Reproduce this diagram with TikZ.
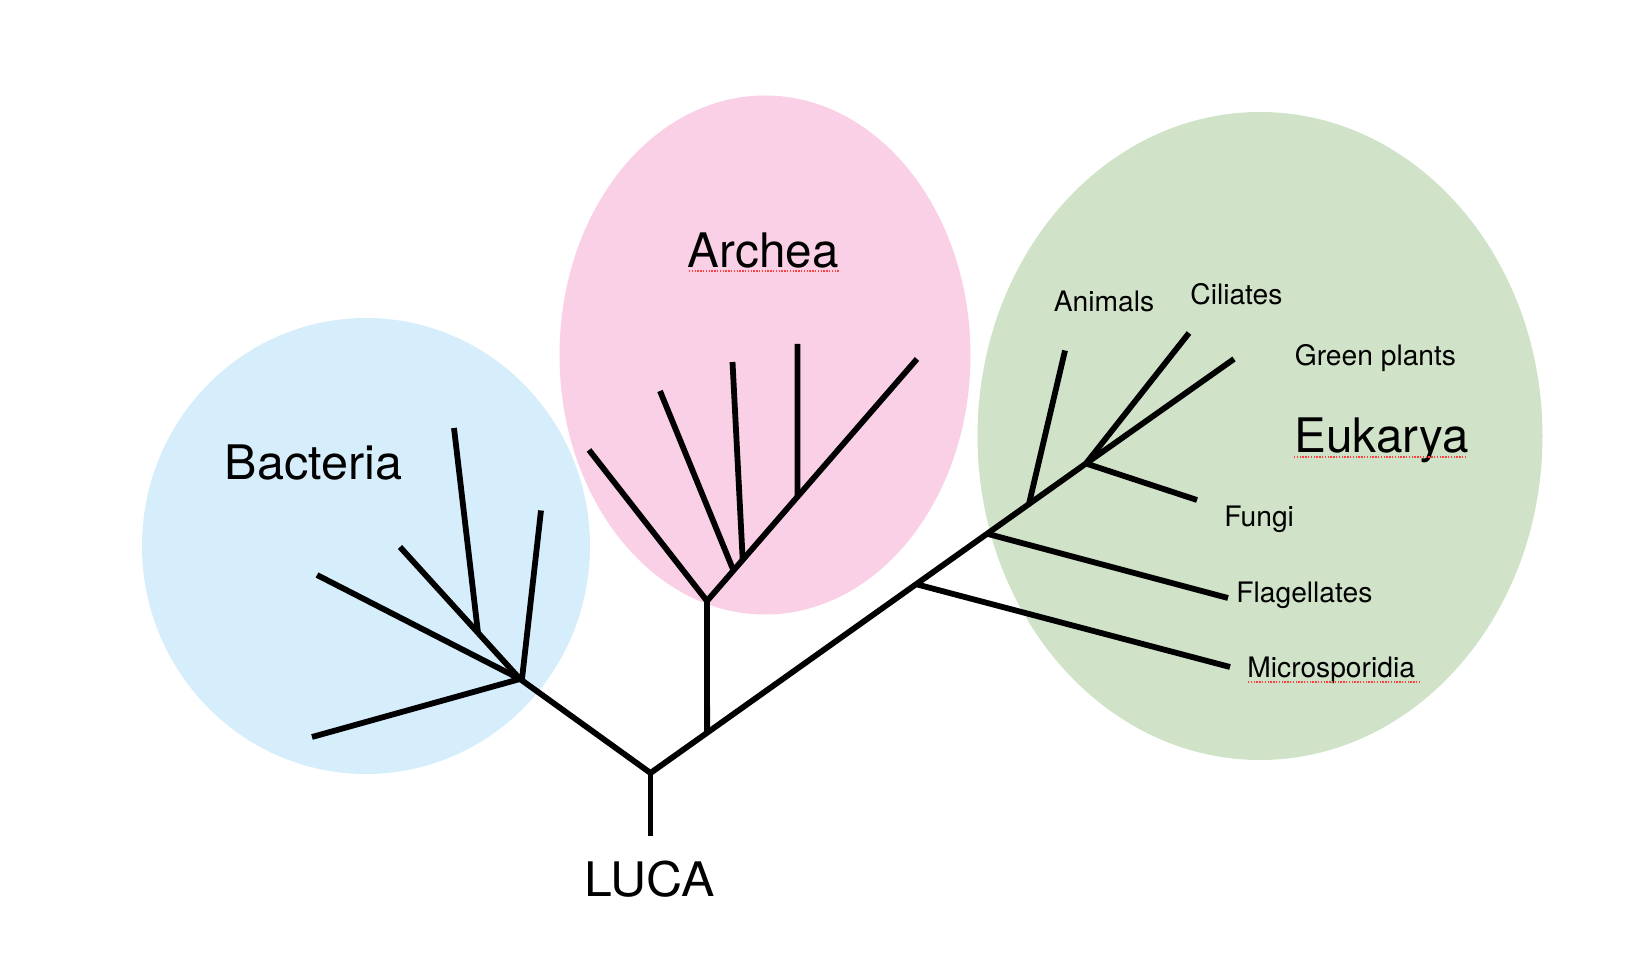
\documentclass[tikz,border=0pt]{standalone}
\usepackage{fontspec}
\setmainfont{TeX Gyre Heros}
\usetikzlibrary{calc}
\definecolor{bactcol}{RGB}{214,238,252}
\definecolor{archcol}{RGB}{249,208,229}
\definecolor{eukcol}{RGB}{208,227,201}
\begin{document}
\begin{tikzpicture}[x=0.5pt,y=-0.5pt,
  branch/.style={line width=2.9pt, line cap=butt, line join=miter},
  big/.style={font=\fontsize{23.8}{28}\selectfont, anchor=base west, inner sep=0pt},
  small/.style={font=\fontsize{14.1}{17}\selectfont, anchor=base west, inner sep=0pt},
  spell/.style={red!75!white, line width=0.6pt, dash pattern=on 0.7pt off 0.7pt}]
\useasboundingbox (0,0) rectangle (1640,972);
% domains
\fill[bactcol] (366,546) ellipse [x radius=224, y radius=228];
\fill[archcol] (765,355) ellipse [x radius=205.5, y radius=259.5];
\fill[eukcol] (1260,436) ellipse [x radius=282.5, y radius=324];
% root and trunk
\coordinate (L0) at (650.5,773);
\coordinate (Lr) at (650.5,836);
\coordinate (E4) at (1086,463.5);
\coordinate (gp) at (1234,359);
\coordinate (At) at ($(L0)!0.13!(E4)$);
\coordinate (E1) at ($(L0)!0.61!(E4)$);
\coordinate (E2) at ($(L0)!0.773!(E4)$);
\coordinate (E3) at ($(L0)!0.869!(E4)$);
% bacteria
\coordinate (BH) at (520,679);
\coordinate (b1) at (312,737);
\coordinate (b2) at (317,575);
\coordinate (b3) at (400,547);
\coordinate (bs) at ($(BH)!0.35!(b3)$);
\coordinate (b4) at (454,428);
\coordinate (b5s) at (522,679);
\coordinate (b5) at (541,510.5);
% archea
\coordinate (A0) at (707,601);
\coordinate (a1) at (589,450);
\coordinate (aE) at (917,359);
\coordinate (a2) at (660,391);
\coordinate (a2s) at ($(A0)!0.126!(aE)$);
\coordinate (a3) at (732.5,362);
\coordinate (a3s) at ($(A0)!0.17!(aE)$);
\coordinate (a4) at (797.5,344);
\coordinate (a4s) at ($(A0)!0.431!(aE)$);
% eukarya leaves
\coordinate (mi) at (1230,667);
\coordinate (fl) at (1228,598);
\coordinate (an) at (1065,350.5);
\coordinate (ci) at (1189,333);
\coordinate (fu) at (1197,500);
% branches
\draw[branch] (Lr) -- (L0);
\draw[branch] (L0) -- (E4) -- (gp);
\draw[branch] (L0) -- (BH);
\draw[branch] (BH) -- (b1);
\draw[branch] (BH) -- (b2);
\draw[branch] (BH) -- (b3);
\draw[branch] (bs) -- (b4);
\draw[branch] (b5s) -- (b5);
\draw[branch] (At) -- (A0);
\draw[branch] (A0) -- (a1);
\draw[branch] (A0) -- (aE);
\draw[branch] (a2s) -- (a2);
\draw[branch] (a3s) -- (a3);
\draw[branch] (a4s) -- (a4);
\draw[branch] (E1) -- (mi);
\draw[branch] (E2) -- (fl);
\draw[branch] (E3) -- (an);
\draw[branch] (E4) -- (ci);
\draw[branch] (E4) -- (fu);
% labels
\node[big] (tb) at (224.5,480) {\scalebox{1.02}[1]{Bacteria}};
\node[big] (ta) at (687.5,268) {Archea};
\node[big] (te) at (1294,453) {Eukarya};
\node[big] (tl) at (584,897) {\scalebox{1.05}[1]{LUCA}};
\node[small] (tan) at (1053.5,312) {Animals};
\node[small] (tci) at (1190,304.5) {Ciliates};
\node[small] (tgp) at (1294.5,366) {Green plants};
\node[small] (tfu) at (1224,526.5) {Fungi};
\node[small] (tfl) at (1236,603) {Flagellates};
\node[small] (tmi) at (1247,678) {Microsporidia};
% spell-check underlines
\draw[spell] (689,271) -- (840,271);
\draw[spell] (1294,457) -- (1466,457);
\draw[spell] (1248,682) -- (1420,682);
\end{tikzpicture}
\end{document}
